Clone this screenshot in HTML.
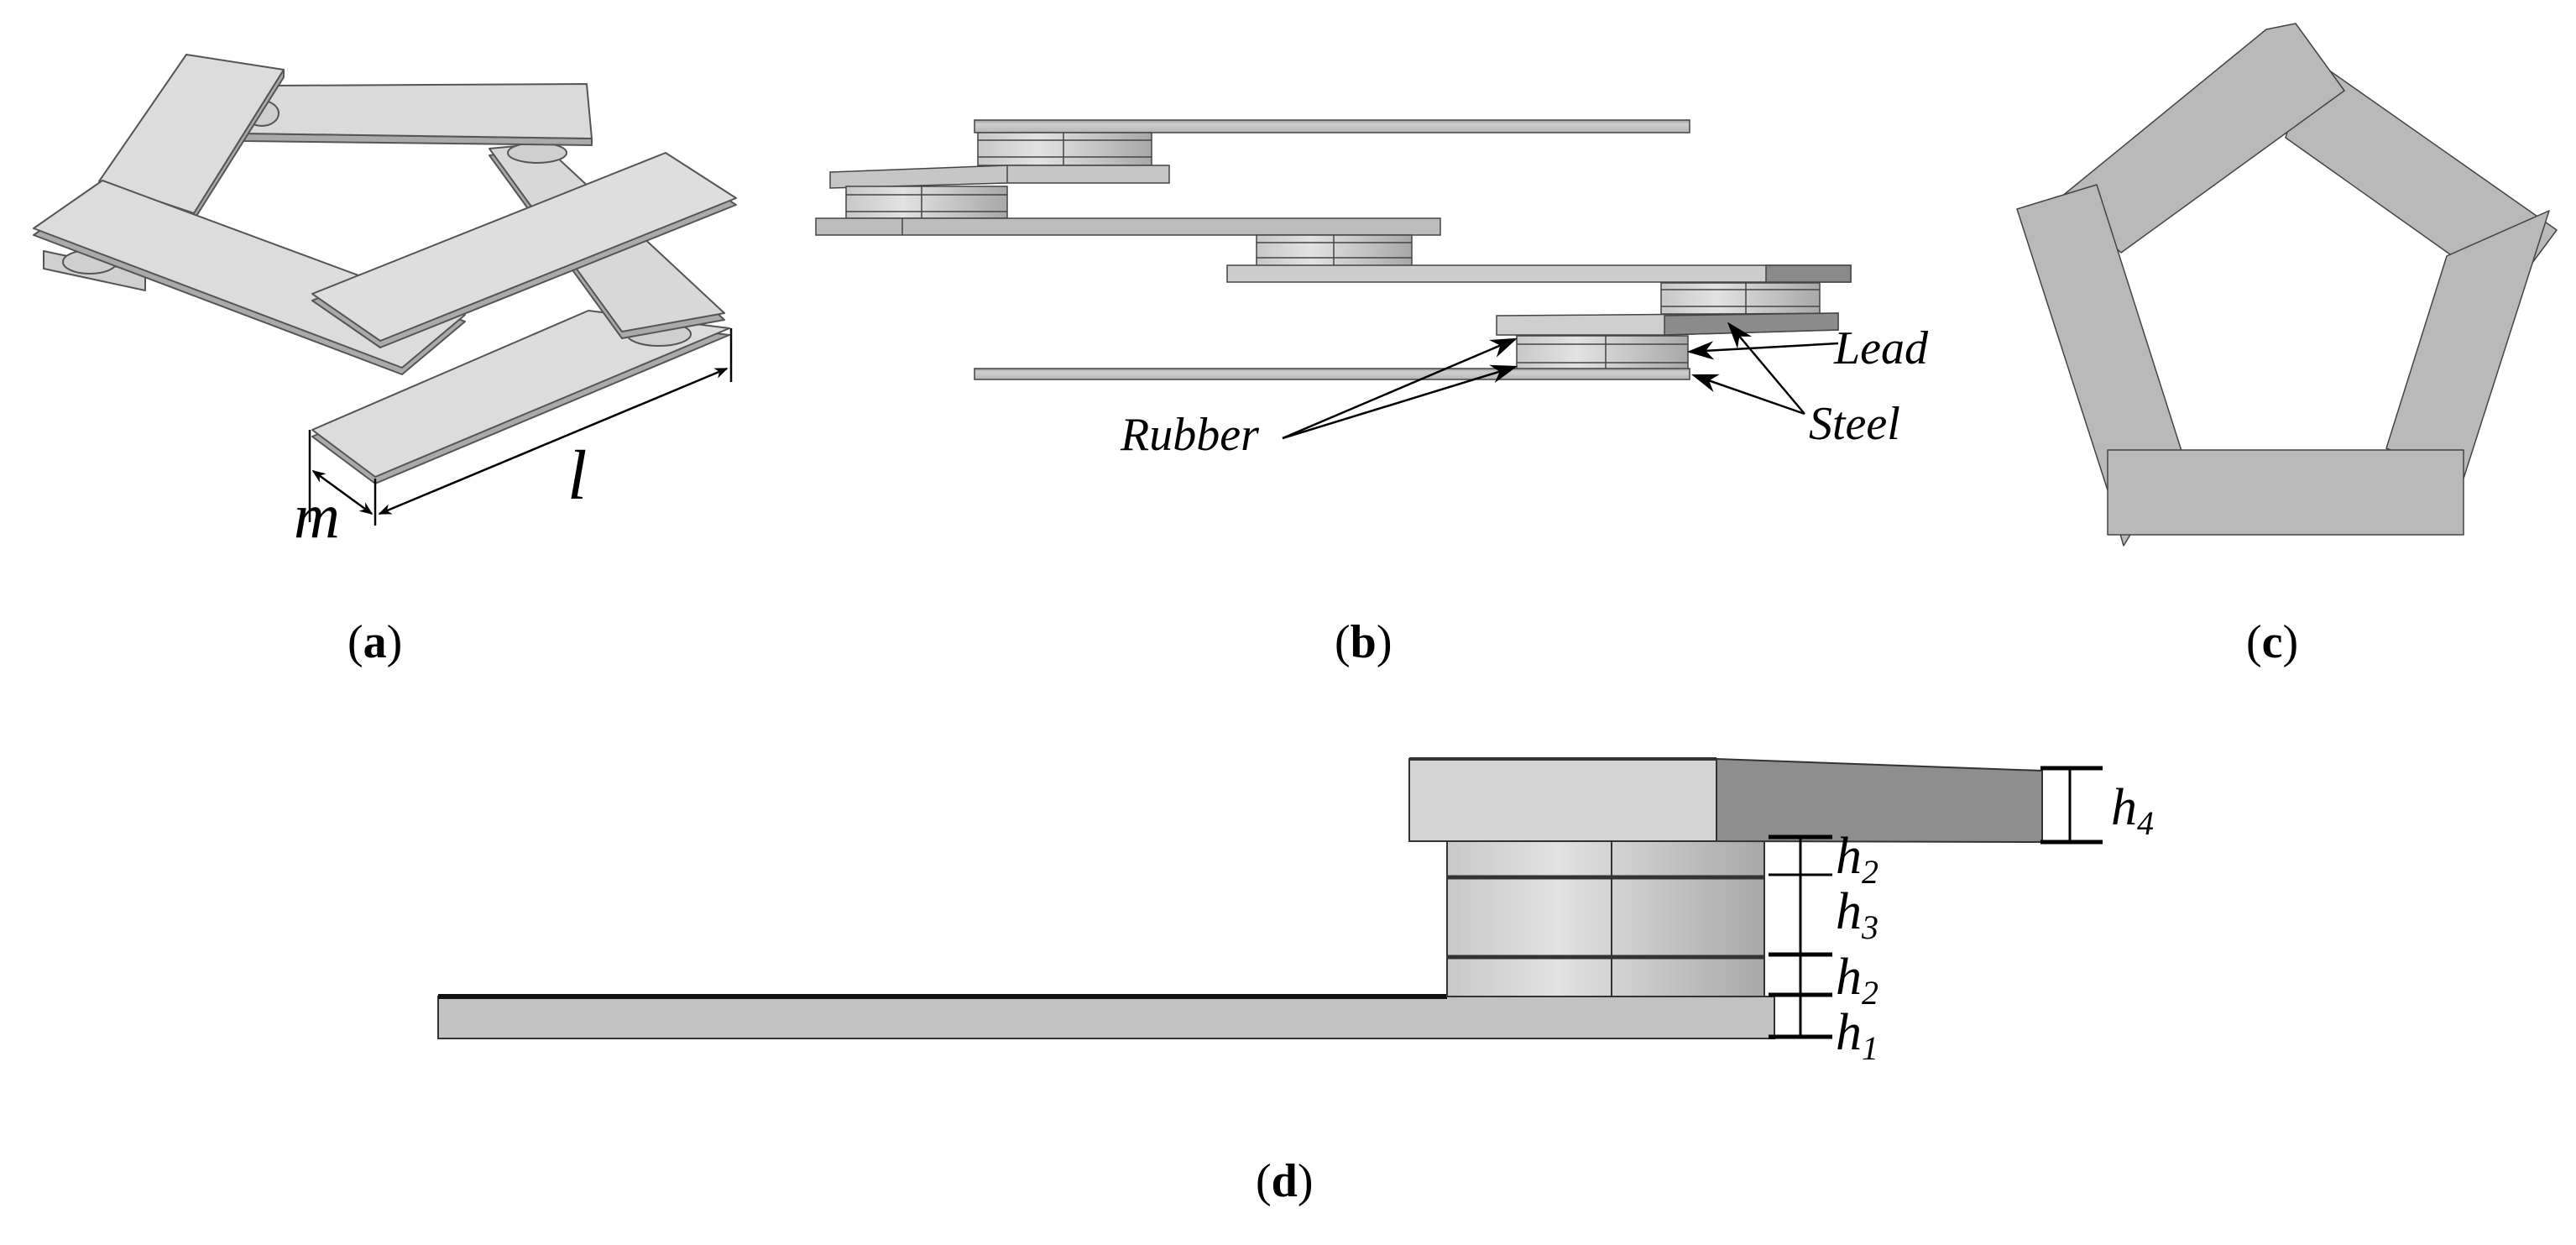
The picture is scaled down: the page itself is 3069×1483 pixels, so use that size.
<!DOCTYPE html>
<html><head><meta charset="utf-8"><style>
html,body{margin:0;padding:0;background:#fff}
svg{display:block}
.lab{font-family:"Liberation Serif",serif;font-size:56px;fill:#000}
.it{font-family:"Liberation Serif",serif;font-style:italic;fill:#000}
</style></head><body>
<svg width="3069" height="1483" viewBox="0 0 3069 1483" xmlns="http://www.w3.org/2000/svg">
<defs>
<marker id="ar" viewBox="0 0 10 10" refX="9" refY="5" markerWidth="16" markerHeight="16" orient="auto-start-reverse" markerUnits="userSpaceOnUse"><path d="M0,1 L10,5 L0,9 L3,5 z" fill="#000"/></marker>
<marker id="ab" viewBox="0 0 10 10" refX="9" refY="5" markerWidth="32" markerHeight="32" orient="auto" markerUnits="userSpaceOnUse"><path d="M0,1.5 L10,5 L0,8.5 L3,5 z" fill="#000"/></marker>
<linearGradient id="cyl" x1="0" x2="1" y1="0" y2="0"><stop offset="0" stop-color="#c8c8c8"/><stop offset="0.35" stop-color="#e2e2e2"/><stop offset="1" stop-color="#a8a8a8"/></linearGradient>
<linearGradient id="pl" x1="0" x2="0" y1="0" y2="1"><stop offset="0" stop-color="#9a9a9a"/><stop offset="0.3" stop-color="#cfcfcf"/><stop offset="1" stop-color="#b5b5b5"/></linearGradient>
</defs>

<!-- (a) -->
<g stroke="#555" stroke-width="2" stroke-linejoin="round">
<polygon points="52,299 173,325 173,346 52,320" fill="#d0d0d0"/>
<polygon points="372,520 701,378 869,399 447,576" fill="#aaa"/>
<polygon points="372,512 701,370 869,391 447,568" fill="#dcdcdc"/>
<ellipse cx="785" cy="398" rx="38" ry="14" fill="#cfcfcf"/>
<ellipse cx="473" cy="395" rx="38" ry="16" fill="#cfcfcf"/>
<polygon points="583,185 646,179 863,381 741,403" fill="#aaa"/>
<polygon points="583,177 646,171 863,373 741,395" fill="#d8d8d8"/>
<ellipse cx="640" cy="182" rx="35" ry="12" fill="#cfcfcf"/>
<polygon points="291,159 705,165 705,173 291,168" fill="#aaa"/>
<polygon points="323,102 699,100 705,165 291,159" fill="#dadada"/>
<ellipse cx="312" cy="135" rx="20" ry="15" fill="#cfcfcf"/>
<polygon points="338,83 338,92 231,262 231,254" fill="#aaa"/>
<polygon points="222,65 338,83 231,254 118,216" fill="#dcdcdc"/>
<ellipse cx="107" cy="312" rx="32" ry="14" fill="#cfcfcf"/>
<polygon points="40,280 122,223 554,383 479,446" fill="#aaa"/>
<polygon points="40,272 122,215 554,375 479,438" fill="#dcdcdc"/>
<polygon points="372,358 793,190 877,244 453,414" fill="#aaa"/>
<polygon points="372,350 793,182 877,236 453,406" fill="#dedede"/>
</g>
<g stroke="#000" stroke-width="2.5" fill="none">
<line x1="369" y1="512" x2="369" y2="622"/>
<line x1="447" y1="570" x2="447" y2="626"/>
<line x1="871" y1="391" x2="871" y2="455"/>
<line x1="452" y1="612" x2="866" y2="439" marker-start="url(#ar)" marker-end="url(#ar)"/>
<line x1="373" y1="561" x2="443" y2="612" marker-start="url(#ar)" marker-end="url(#ar)"/>
</g>
<text class="it" x="676" y="594" font-size="84">l</text>
<text class="it" x="350" y="640" font-size="76">m</text>
<text class="lab" x="414" y="783"><tspan>(</tspan><tspan font-weight="bold">a</tspan><tspan>)</tspan></text>

<!-- (b) -->
<g stroke="#444" stroke-width="1.5">
<rect x="1161" y="143" width="852" height="15" fill="url(#pl)"/>
<rect x="1165" y="158" width="207" height="39" fill="url(#cyl)"/>
<line x1="1267" y1="158" x2="1267" y2="197"/><line x1="1165" y1="167" x2="1372" y2="167"/><line x1="1165" y1="187" x2="1372" y2="187"/>
<polygon points="989,205 1200,197 1393,197 1393,218 1200,218 989,224" fill="#c6c6c6"/>
<line x1="1200" y1="197" x2="1200" y2="218"/>
<rect x="1008" y="222" width="192" height="38" fill="url(#cyl)"/>
<line x1="1098" y1="222" x2="1098" y2="260"/><line x1="1008" y1="232" x2="1200" y2="232"/><line x1="1008" y1="252" x2="1200" y2="252"/>
<rect x="972" y="260" width="744" height="20" fill="#bdbdbd"/>
<line x1="1075" y1="260" x2="1075" y2="280"/>
<rect x="1497" y="280" width="185" height="37" fill="url(#cyl)"/>
<line x1="1589" y1="280" x2="1589" y2="317"/><line x1="1497" y1="289" x2="1682" y2="289"/><line x1="1497" y1="307" x2="1682" y2="307"/>
<rect x="1462" y="316" width="743" height="20" fill="#cdcdcd"/>
<rect x="2104" y="316" width="101" height="20" fill="#8a8a8a"/>
<rect x="1979" y="337" width="189" height="37" fill="url(#cyl)"/>
<line x1="2080" y1="337" x2="2080" y2="374"/><line x1="1979" y1="345" x2="2168" y2="345"/><line x1="1979" y1="365" x2="2168" y2="365"/>
<polygon points="1783,376 2190,373 2190,393 1983,399 1783,399" fill="#cfcfcf"/>
<polygon points="1983,376 2190,373 2190,393 1983,399" fill="#8c8c8c"/>
<rect x="1807" y="400" width="204" height="40" fill="url(#cyl)"/>
<line x1="1913" y1="400" x2="1913" y2="440"/><line x1="1807" y1="410" x2="2011" y2="410"/><line x1="1807" y1="432" x2="2011" y2="432"/>
<rect x="1161" y="439" width="852" height="13" fill="url(#pl)"/>
</g>
<g stroke="#000" stroke-width="2.5" fill="none">
<line x1="1528" y1="522" x2="1805" y2="404" marker-end="url(#ab)"/>
<line x1="1528" y1="522" x2="1805" y2="437" marker-end="url(#ab)"/>
<line x1="2190" y1="409" x2="2013" y2="419" marker-end="url(#ab)"/>
<line x1="2150" y1="493" x2="2060" y2="386" marker-end="url(#ab)"/>
<line x1="2150" y1="493" x2="2018" y2="447" marker-end="url(#ab)"/>
</g>
<text class="it" x="2185" y="433" font-size="56">Lead</text>
<text class="it" x="2155" y="523" font-size="56">Steel</text>
<text class="it" x="1335" y="536" font-size="56">Rubber</text>
<text class="lab" x="1590" y="783"><tspan>(</tspan><tspan font-weight="bold">b</tspan><tspan>)</tspan></text>

<!-- (c) -->
<g fill="#b9b9b9" stroke="#444" stroke-width="1.5" stroke-linejoin="round">
<polygon points="2751,67 3046,274 2988,352 2723,164"/>
<polygon points="2915,305 3037,251 2935,570 2843,534"/>
<polygon points="2700,35 2735,28 2793,108 2527,301 2455,235"/>
<polygon points="2403,249 2498,220 2599,537 2530,650 2511,584"/>
<rect x="2511" y="536" width="424" height="101"/>
</g>
<text class="lab" x="2676" y="783"><tspan>(</tspan><tspan font-weight="bold">c</tspan><tspan>)</tspan></text>

<!-- (d) -->
<g stroke="#333" stroke-width="2">
<rect x="522" y="1187" width="1592" height="50" fill="#c2c2c2"/>
<line x1="522" y1="1187" x2="1724" y2="1187" stroke="#111" stroke-width="6"/>
<rect x="1724" y="1002" width="378" height="185" fill="url(#cyl)"/>
<line x1="1920" y1="1002" x2="1920" y2="1187"/>
<line x1="1724" y1="1045" x2="2102" y2="1045" stroke-width="5"/>
<line x1="1724" y1="1140" x2="2102" y2="1140" stroke-width="5"/>
<rect x="1679" y="904" width="366" height="98" fill="#d4d4d4"/>
<polygon points="2045,904 2433,918 2433,1003 2045,1002" fill="#8e8e8e"/>
<line x1="1679" y1="904" x2="2045" y2="904" stroke-width="4"/>
</g>
<g stroke="#000" stroke-width="3" fill="none">
<line x1="2466" y1="915" x2="2466" y2="1003"/>
<line x1="2431" y1="915" x2="2505" y2="915" stroke-width="5"/>
<line x1="2431" y1="1003" x2="2505" y2="1003" stroke-width="5"/>
<line x1="2145" y1="997" x2="2145" y2="1237"/>
<line x1="2107" y1="997" x2="2183" y2="997" stroke-width="5"/>
<line x1="2107" y1="1042" x2="2183" y2="1042" stroke-width="3"/>
<line x1="2107" y1="1137" x2="2183" y2="1137" stroke-width="5"/>
<line x1="2107" y1="1185" x2="2183" y2="1185" stroke-width="5"/>
<line x1="2107" y1="1235" x2="2183" y2="1235" stroke-width="5"/>
</g>
<g class="it" font-size="62">
<text x="2515" y="982">h<tspan font-size="40" dy="12">4</tspan></text>
<text x="2187" y="1040">h<tspan font-size="40" dy="12">2</tspan></text>
<text x="2187" y="1106">h<tspan font-size="40" dy="12">3</tspan></text>
<text x="2187" y="1184">h<tspan font-size="40" dy="12">2</tspan></text>
<text x="2187" y="1250">h<tspan font-size="40" dy="12">1</tspan></text>
</g>
<text class="lab" x="1496" y="1425"><tspan>(</tspan><tspan font-weight="bold">d</tspan><tspan>)</tspan></text>
</svg>
</body></html>
